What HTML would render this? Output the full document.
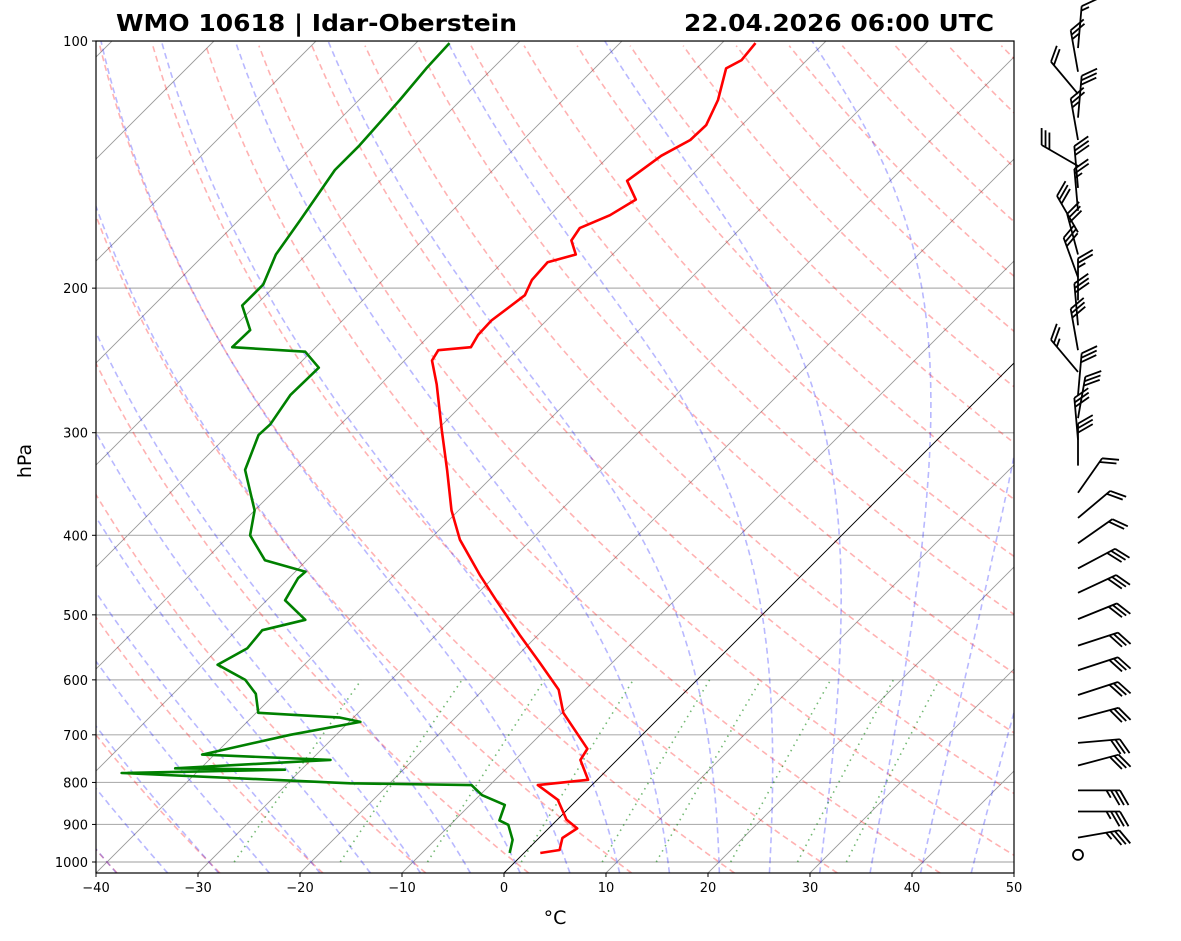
<!DOCTYPE html>
<html><head><meta charset="utf-8"><style>
body{margin:0;background:#fff;}
svg{display:block;font-family:"DejaVu Sans","Liberation Sans",sans-serif;}
</style></head><body>
<svg id="chart" width="1181" height="941" viewBox="0 0 1181 941" xmlns="http://www.w3.org/2000/svg">
<defs><clipPath id="pc"><rect x="96" y="41" width="918" height="832"/></clipPath></defs>
<rect width="1181" height="941" fill="#fff"/>
<text x="116" y="31" font-size="23" font-weight="bold" textLength="401" lengthAdjust="spacingAndGlyphs">WMO 10618 | Idar-Oberstein</text>
<text x="684" y="31" font-size="23" font-weight="bold" textLength="310" lengthAdjust="spacingAndGlyphs">22.04.2026 06:00 UTC</text>
<g id="bg" clip-path="url(#pc)"></g>
<g id="prof" clip-path="url(#pc)"></g>
<rect x="96" y="41" width="918" height="832" fill="none" stroke="#000" stroke-width="1.2"/>
<g id="axes"></g>
<g id="barbs"></g>
<text x="555" y="924" font-size="19" text-anchor="middle">°C</text>
<text x="31" y="461" font-size="19" text-anchor="middle" transform="rotate(-90 31 461)">hPa</text>
</svg>
<script>
// ---- data ----
const tempP = [975,967,935,910,888,840,806,794,751,728,658,617,572,529,480,447,405,373,333,298,262,245,238,236,228,219,204,195.5,186,182,175,169,163,156,148,138,132,126.6,118,108,105.5,100.6];
const tempT = [1.6,3.2,2.3,2.8,0.9,-1.9,-5.3,-0.9,-3.6,-4.0,-9.9,-12.6,-17.1,-21.8,-27.5,-31.6,-37.0,-40.7,-45.1,-49.5,-54.5,-57.3,-57.7,-54.8,-55.3,-55.4,-54.6,-55.4,-55.6,-53.6,-55.4,-55.8,-54.1,-53.1,-55.8,-54.9,-53.6,-53.5,-54.8,-57.1,-56.4,-56.7];
const dewP = [975,940,901,890,852,829,806,802,779,772,769,751,740,700,675,667,658,624,600,575,549,522,507,480,451,443,429,400,373,333,302,293,270,250,239,236,225,210,198,182,165,143.6,134,118,108,100.6];
const dewT = [-1.4,-2.4,-4.3,-5.6,-6.6,-9.8,-11.8,-23.9,-47.3,-31.6,-42.5,-28.1,-41.2,-34.5,-28.9,-31.3,-39.8,-41.9,-44.3,-48.5,-47.2,-47.5,-44.3,-48.2,-49.1,-49.0,-54.1,-58,-60,-64.9,-67,-66.9,-67.8,-67.7,-70.6,-78.2,-78.1,-81.3,-81.3,-83,-84,-85.5,-85.5,-86,-86.5,-86.7];
const barbP = [980,934,868,818,763,716,669,626,584,545,506,470,439,409,381,355,329,306,288,270,253,238,222,207,194,182,171,161,151,142,132,124,116,109,102];
const barbSpd = [0,35,35,35,30,30,30,30,30,30,30,30,30,20,20,20,30,30,30,30,25,30,30,25,30,30,30,25,30,30,25,30,20,25,15];
const barbDir = [0,80,90,90,75,85,75,72,72,72,68,65,62,55,50,35,0,355,10,5,320,350,355,0,340,345,330,355,355,300,350,5,320,350,5];
const pTicks = [100,200,300,400,500,600,700,800,900,1000];
const tTicks = [-40,-30,-20,-10,0,10,20,30,40,50];
// ---- axes functions ----
const NS='http://www.w3.org/2000/svg';
const X0=96,X1=1014,Y0=41,Y1=873,DEC=821,SC=10.2;
function yP(p){return Y0+Math.log10(p/100)*DEC;}
function xT(T,p){return X0+(T+40)*SC+(Y1-yP(p));}
const pBot=100*Math.pow(10,(Y1-Y0)/DEC);
function mk(tag,attrs,parent){const e=document.createElementNS(NS,tag);for(const k in attrs)e.setAttribute(k,attrs[k]);parent.appendChild(e);return e;}
const bg=document.getElementById('bg'),prof=document.getElementById('prof'),axes=document.getElementById('axes'),bw=document.getElementById('barbs');
function poly(pts){return pts.map(q=>q[0].toFixed(1)+','+q[1].toFixed(1)).join(' ');}
pTicks.forEach(p=>{const l=mk('line',{x1:X0,x2:X1,y1:yP(p),y2:yP(p),stroke:'#b0b0b0','stroke-width':1.2},bg);

});
for(let T=-150;T<=50;T+=10){const l=mk('line',{x1:xT(T,pBot),y1:Y1,x2:xT(T,100),y2:Y0,stroke:'#999','stroke-width':0.9},bg);

}
const ps=[];for(let p=pBot;p>=99;p-=5)ps.push(p);
for(let t0=-40;t0<=250;t0+=10){const th=t0+273.15;const pts=ps.map(p=>[xT(th*Math.pow(p/1000,0.2857)-273.15,p),yP(p)]);
const l=mk('polyline',{points:poly(pts),fill:'none',stroke:'rgba(255,0,0,0.3)','stroke-width':1.6,'stroke-dasharray':'6,4'},bg);

}
function es(T){return 6.112*Math.exp(17.67*T/(T+243.5));}
function dTdp(T,p){const Tk=T+273.15,e=es(T),rs=0.622*e/(p-e),Rd=287.04,Lv=2.501e6,Cp=1005.7;
return (Rd*Tk+Lv*rs)/(Cp+Lv*Lv*rs*0.622/(Rd*Tk*Tk))/p;}
function moist(t0){let pts=[];let T=t0,p=1000,dp=2;
const down=[];let Td=t0;for(let q=1000;q<pBot;q+=dp){Td+=dTdp(Td,q)*dp;down.push([xT(Td,q+dp),yP(q+dp)]);}
pts=down.reverse();pts.push([xT(t0,1000),yP(1000)]);
for(p=1000;p>100;p-=dp){T-=dTdp(T,p)*dp;pts.push([xT(T,p-dp),yP(p-dp)]);}
return pts;}
for(let t0=-50;t0<=45;t0+=5){const l=mk('polyline',{points:poly(moist(t0)),fill:'none',stroke:'rgba(0,0,255,0.28)','stroke-width':1.6,'stroke-dasharray':'6,4'},bg);

}
[0.0004,0.001,0.002,0.004,0.007,0.01,0.016,0.024,0.032].forEach(w=>{const pts=[];for(let p=1000;p>=600;p-=10){const e=p*w/(0.622+w);const L=Math.log(e/6.112);const Td=243.5*L/(17.67-L);pts.push([xT(Td,p),yP(p)]);}
const l=mk('polyline',{points:poly(pts),fill:'none',stroke:'rgba(0,128,0,0.55)','stroke-width':1.6,'stroke-dasharray':'1.5,4.5'},bg);

});
const z=mk('line',{x1:xT(0,pBot),y1:Y1,x2:xT(0,100),y2:Y0,stroke:'#000','stroke-width':0.9},bg);


const tl=mk('polyline',{points:poly(tempP.map((p,i)=>[xT(tempT[i],p),yP(p)])),fill:'none',stroke:'#f00','stroke-width':2.6,'stroke-linejoin':'round'},prof);


const dl=mk('polyline',{points:poly(dewP.map((p,i)=>[xT(dewT[i],p),yP(p)])),fill:'none',stroke:'#008000','stroke-width':2.6,'stroke-linejoin':'round'},prof);


pTicks.forEach(p=>{const y=yP(p);mk('line',{x1:X0-4,x2:X0,y1:y,y2:y,stroke:'#000'},axes);
const t=mk('text',{x:X0-8,y:y+5,'font-size':13,'text-anchor':'end'},axes);t.textContent=p;

});
tTicks.forEach(T=>{const x=X0+(T+40)*SC;mk('line',{x1:x,x2:x,y1:Y1,y2:Y1+4,stroke:'#000'},axes);
const t=mk('text',{x:x,y:Y1+19,'font-size':13,'text-anchor':'middle'},axes);t.textContent=(T<0?'\u2212'+(-T):T);

});
const BX=1078,SL=42,FL=17,SP=4.5;
barbP.forEach((p,i)=>{const y=yP(p);const g=mk('g',{},bw);


if(barbSpd[i]<2.5){mk('circle',{cx:BX,cy:y,r:5,fill:'none',stroke:'#000','stroke-width':1.8},g);return;}
const a=barbDir[i]*Math.PI/180;const ux=Math.sin(a),uy=-Math.cos(a);
const ex=BX+ux*SL,ey=y+uy*SL;mk('line',{x1:BX,y1:y,x2:ex,y2:ey,stroke:'#000','stroke-width':1.8},g);
const c=Math.cos(Math.PI/3),s=Math.sin(Math.PI/3);const fx=ux*c-uy*s,fy=ux*s+uy*c;
let sp=Math.round(barbSpd[i]/5)*5;let k=0;
while(sp>=10){const bx=ex-ux*k*SP,by=ey-uy*k*SP;mk('line',{x1:bx,y1:by,x2:bx+fx*FL,y2:by+fy*FL,stroke:'#000','stroke-width':1.8},g);sp-=10;k++;}
if(sp>=5){if(k===0)k=1;const bx=ex-ux*k*SP,by=ey-uy*k*SP;mk('line',{x1:bx,y1:by,x2:bx+fx*FL/2,y2:by+fy*FL/2,stroke:'#000','stroke-width':1.8},g);}
});
</script>
</body></html>
